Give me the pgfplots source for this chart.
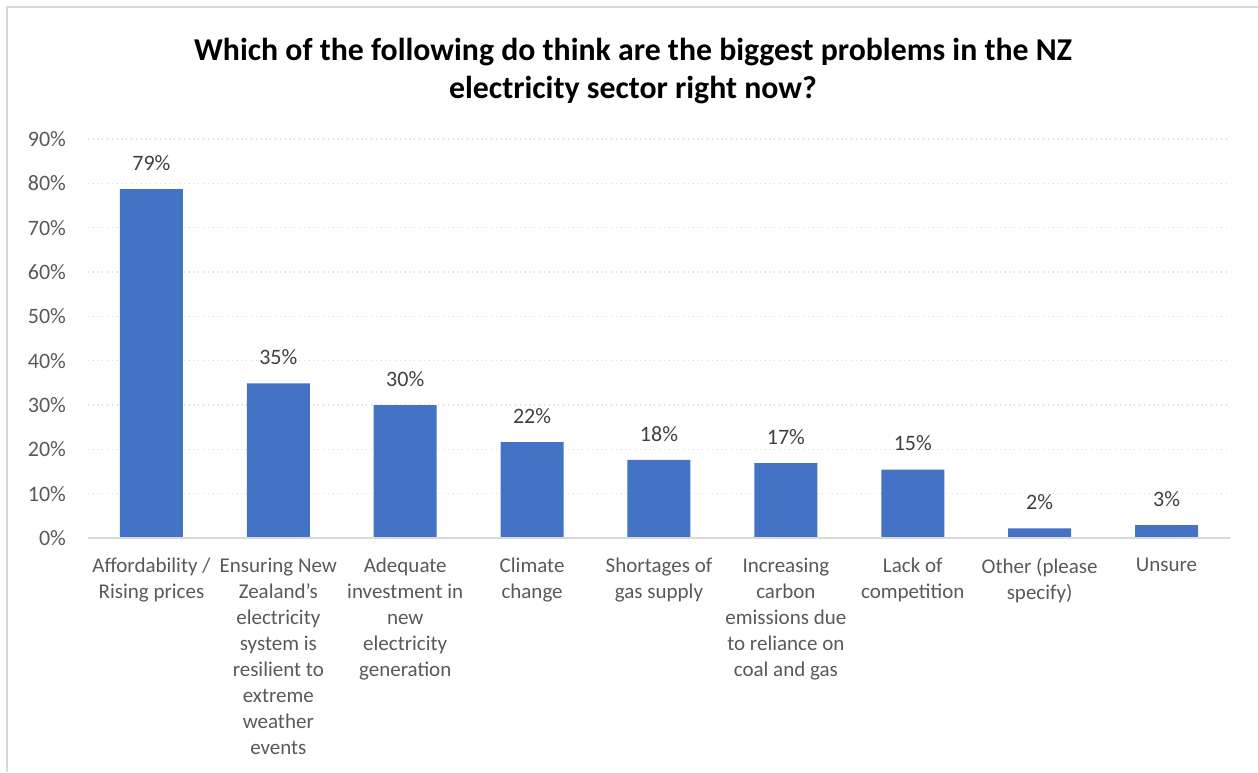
\documentclass[border=0pt]{standalone}
\usepackage{fontspec}
\setmainfont{Carlito}
\usepackage{pgfplots}
\pgfplotsset{compat=1.18}
\definecolor{barblue}{HTML}{4472C4}
\definecolor{gridgray}{HTML}{D9D9D9}
\definecolor{ticktext}{HTML}{595959}
\definecolor{labeltext}{HTML}{404040}
\begin{document}
\begin{tikzpicture}
\path[use as bounding box] (0,0) rectangle (629pt,386pt);
\draw[gridgray, line width=0.75pt] (3.5pt,0) -- (3.5pt,382.5pt) -- (629pt,382.5pt);
\node[font=\fontsize{15.9}{19}\selectfont\bfseries, align=center, text=black] at (316.5pt,350.3pt)
  {Which of the following do think are the biggest problems in the NZ\\electricity sector right now?};
\begin{axis}[
  at={(44pt,117pt)}, anchor=south west,
  scale only axis, width=571pt, height=199.5pt,
  xmin=-0.5, xmax=8.5, ymin=0, ymax=90,
  axis line style={draw=none},
  ytick={0,10,...,90},
  yticklabels={0\%,10\%,20\%,30\%,40\%,50\%,60\%,70\%,80\%,90\%},
  ymajorgrids, grid style={gridgray, dotted, line width=0.6pt},
  xtick={0,...,8},
  xticklabels={
    Affordability /\\Rising prices,
    Ensuring New\\Zealand’s\\electricity\\system is\\resilient to\\extreme\\weather\\events,
    Adequate\\investment in\\new\\electricity\\generation,
    Climate\\change,
    Shortages of\\gas supply,
    Increasing\\carbon\\emissions due\\to reliance on\\coal and gas,
    Lack of\\competition,
    Other (please\\specify),
    Unsure},
  major tick length=0pt,
  tick style={draw=none},
  ticklabel style={text=ticktext},
  xticklabel style={font=\fontsize{10.5}{13}\selectfont, align=center, anchor=north, yshift=-6.5pt},
  yticklabel style={font=\fontsize{11}{13}\selectfont, anchor=east, xshift=-7.5pt},
  ybar, bar width=31.5pt,
  point meta=explicit symbolic,
  nodes near coords,
  every node near coord/.append style={anchor=base, yshift=9.4pt, font=\fontsize{11}{13}\selectfont, text=labeltext},
  clip=false,
]
\addplot[fill=barblue, draw=none] coordinates {
  (0,78.7) [79\%]
  (1,34.9) [35\%]
  (2,30.0) [30\%]
  (3,21.6) [22\%]
  (4,17.6) [18\%]
  (5,16.9) [17\%]
  (6,15.4) [15\%]
  (7,2.2) [2\%]
  (8,2.9) [3\%]
};
\draw[gridgray, line width=0.75pt] (axis cs:-0.5,0) -- (axis cs:8.5,0);
\end{axis}
\end{tikzpicture}
\end{document}
